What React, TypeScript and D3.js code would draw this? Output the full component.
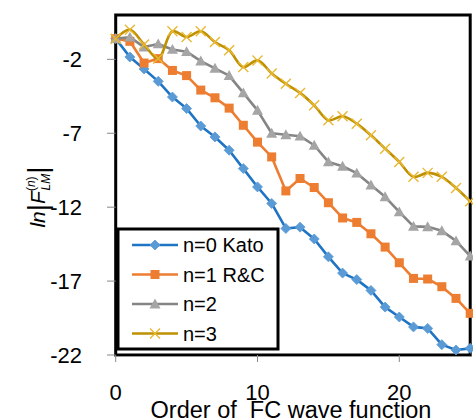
import React from "react";
import * as d3 from "d3";

const orders = [0, 1, 2, 3, 4, 5, 6, 7, 8, 9, 10, 11, 12, 13, 14, 15, 16, 17, 18, 19, 20, 21, 22, 23, 24, 25];
const n0Kato = [-0.6, -1.84, -2.65, -3.49, -4.55, -5.33, -6.51, -7.25, -8.15, -9.39, -10.63, -11.75, -13.44, -13.35, -14.15, -15.36, -16.46, -16.9, -17.63, -18.76, -19.43, -20.1, -20.2, -21.3, -21.66, -21.55];
const n1RC = [-0.6, -0.78, -2.25, -1.95, -2.75, -3.1, -4.08, -4.6, -5.3, -6.46, -7.6, -8.6, -10.9, -10.06, -10.67, -11.7, -12.73, -13.03, -13.8, -14.7, -15.76, -16.82, -16.86, -17.38, -18.17, -19.18];
const n2 = [-0.6, -0.5, -1.17, -0.96, -1.33, -1.48, -2.12, -2.61, -3.1, -4.27, -5.45, -7.0, -7.1, -7.2, -7.81, -8.94, -9.23, -9.7, -10.5, -11.3, -12.32, -13.3, -13.33, -13.6, -14.28, -15.31];
const n3 = [-0.6, 0.0, -1.0, -1.95, -0.1, -0.49, -0.1, -0.83, -1.39, -2.52, -2.07, -2.95, -3.65, -4.27, -5.11, -6.12, -5.85, -6.35, -7.14, -8.04, -8.94, -9.95, -9.68, -9.95, -10.7, -11.6];

const seriesNames = ["n=0 Kato", "n=1 R&C", "n=2", "n=3"];
const yTicks = [-22, -17, -12, -7, -2];
const xTicks = [0, 10, 20];

const W = 473, H = 419;
const x = d3.scaleLinear().domain([0, 25]).range([115.7, 470.2]);
const y = d3.scaleLinear().domain([-22, 1]).range([355, 15]);

type Kind = "diamond" | "square" | "triangle" | "cross";
const series: { name: string; values: number[]; line: string; marker: string; kind: Kind; smooth: boolean }[] = [
  { name: seriesNames[0], values: n0Kato, line: "#1F74C4", marker: "#5B9BD5", kind: "diamond", smooth: false },
  { name: seriesNames[1], values: n1RC, line: "#ED7D31", marker: "#ED7D31", kind: "square", smooth: false },
  { name: seriesNames[2], values: n2, line: "#858585", marker: "#A5A5A5", kind: "triangle", smooth: false },
  { name: seriesNames[3], values: n3, line: "#BF9000", marker: "#E9B833", kind: "cross", smooth: true },
];

function Marker({ kind, cx, cy, color }: { kind: Kind; cx: number; cy: number; color: string }) {
  if (kind === "diamond") {
    const r = 5;
    return <path d={`M${cx},${cy - r}L${cx + r},${cy}L${cx},${cy + r}L${cx - r},${cy}Z`} fill={color} stroke={color} strokeWidth={0.8} />;
  }
  if (kind === "square") {
    const r = 4.5;
    return <rect x={cx - r} y={cy - r} width={2 * r} height={2 * r} fill={color} />;
  }
  if (kind === "triangle") {
    const r = 5.5;
    return <path d={`M${cx},${cy - r}L${cx + r},${cy + r * 0.8}L${cx - r},${cy + r * 0.8}Z`} fill={color} />;
  }
  const r = 5;
  return (
    <path d={`M${cx - r},${cy - r}L${cx + r},${cy + r}M${cx - r},${cy + r}L${cx + r},${cy - r}`} stroke={color} strokeWidth={1.4} fill="none" />
  );
}

export default function App() {
  const font = "Arial, 'Liberation Sans', sans-serif";
  const legendX = 118, legendY = 229, legendW = 160, legendH = 120;
  return (
    <svg width={W} height={H} style={{ position: "absolute", left: 0, top: 0, background: "#fff" }} fontFamily={font}>
      {/* gridless plot frame */}
      <rect x={x(0)} y={y(1)} width={x(25) - x(0)} height={y(-22) - y(1)} fill="#fff" stroke="#000" strokeWidth={3} />
      {/* y ticks */}
      {yTicks.map((t) => (
        <g key={"y" + t}>
          <line x1={107} x2={x(0)} y1={y(t)} y2={y(t)} stroke="#888" strokeWidth={1} />
          <text x={82} y={y(t)} dy="0.36em" textAnchor="end" fontSize={22} fill="#000">{t}</text>
        </g>
      ))}
      {/* x ticks */}
      {xTicks.map((t) => (
        <g key={"x" + t}>
          <line x1={x(t)} x2={x(t)} y1={y(-22)} y2={362} stroke="#888" strokeWidth={1} />
          <text x={x(t)} y={400} textAnchor="middle" fontSize={22} fill="#000">{t}</text>
        </g>
      ))}
      <line x1={x(0)} x2={x(25)} y1={356.5} y2={356.5} stroke="#999" strokeWidth={1} />
      {/* series */}
      {series.map((s) => {
        const gen = d3
          .line<number>()
          .x((_, i) => x(orders[i]))
          .y((v) => y(v))
          .curve(s.smooth ? d3.curveCatmullRom.alpha(0.5) : d3.curveLinear);
        return (
          <g key={s.name}>
            <path d={gen(s.values) || ""} fill="none" stroke={s.line} strokeWidth={2.6} strokeLinejoin="round" />
            {s.values.map((v, i) => (
              <Marker key={i} kind={s.kind} cx={x(orders[i])} cy={y(v)} color={s.marker} />
            ))}
          </g>
        );
      })}
      {/* legend */}
      <rect x={legendX} y={legendY} width={legendW} height={legendH} fill="#fff" stroke="#000" strokeWidth={3} />
      {series.map((s, i) => {
        const cy = 245 + i * 29.5;
        return (
          <g key={"lg" + i}>
            <line x1={132} x2={178} y1={cy} y2={cy} stroke={s.line} strokeWidth={2.6} />
            <Marker kind={s.kind} cx={155} cy={cy} color={s.marker} />
            <text x={183} y={cy} dy="0.36em" fontSize={20} fill="#000">{s.name}</text>
          </g>
        );
      })}
      {/* axis titles */}
      <text x={291} y={418} textAnchor="middle" fontSize={23.5} fill="#000" style={{ whiteSpace: "pre" }}>
        {"Order of  FC wave function"}
      </text>
      <g transform="translate(45,197) rotate(-90)">
        <text x={0} y={0} textAnchor="middle" fontSize={21} fill="#000">
          <tspan fontStyle="italic">ln</tspan>
          <tspan fontSize={28} dy={2}>|</tspan>
          <tspan fontStyle="italic" dy={-2}>F</tspan>
          <tspan fontSize={12} dy={-10}>(</tspan>
          <tspan fontSize={12} fontStyle="italic">n</tspan>
          <tspan fontSize={12}>)</tspan>
          <tspan fontSize={12} fontStyle="italic" dx={-14} dy={15}>LM</tspan>
          <tspan fontSize={28} dy={-3}>|</tspan>
        </text>
      </g>
    </svg>
  );
}
